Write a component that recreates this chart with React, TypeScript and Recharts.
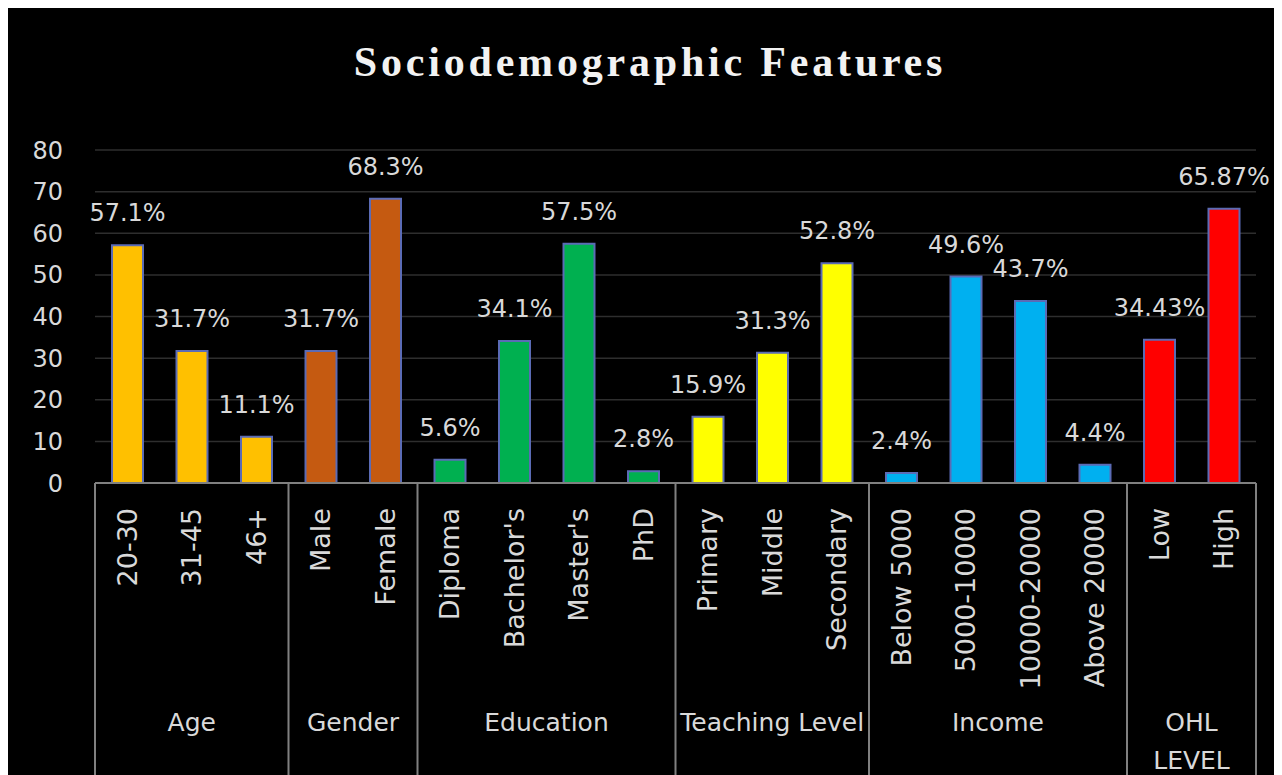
import { BarChart, Bar, XAxis, YAxis, CartesianGrid, Cell, LabelList } from 'recharts'

const categories = [
  '20-30', '31-45', '46+',
  'Male', 'Female',
  'Diploma', "Bachelor's", "Master's", 'PhD',
  'Primary', 'Middle', 'Secondary',
  'Below 5000', '5000-10000', '10000-20000', 'Above 20000',
  'Low', 'High'
]
const values = [57.1, 31.7, 11.1, 31.7, 68.3, 5.6, 34.1, 57.5, 2.8, 15.9, 31.3, 52.8, 2.4, 49.6, 43.7, 4.4, 34.43, 65.87]
const valueLabels = [
  '57.1%', '31.7%', '11.1%', '31.7%', '68.3%', '5.6%', '34.1%', '57.5%', '2.8%',
  '15.9%', '31.3%', '52.8%', '2.4%', '49.6%', '43.7%', '4.4%', '34.43%', '65.87%'
]
const groupNames = ['Age', 'Gender', 'Education', 'Teaching Level', 'Income', 'OHL\nLEVEL']
const groupSizes = [3, 2, 4, 3, 4, 2]
const groupColors = ['#FFC000', '#C55A11', '#00B050', '#FFFF00', '#00B0F0', '#FF0000']
const yTicks = [0, 10, 20, 30, 40, 50, 60, 70, 80]

const W = 1274
const H = 767
const MARGIN = { top: 142, right: 26, left: 0, bottom: 0 }
const Y_AXIS_W = 87
const BAND = (W - MARGIN.left - MARGIN.right - Y_AXIS_W) / categories.length
const TEXT = '#d9d9d9'
const FONT = 'DejaVu Sans'

const chartData = (() => {
  const rows: any[] = []
  let i = 0
  groupSizes.forEach((size, g) => {
    for (let k = 0; k < size; k++) {
      rows.push({
        category: categories[i],
        value: values[i],
        label: valueLabels[i],
        group: g,
        first: k === 0,
        size
      })
      i++
    }
  })
  return rows
})()

function CategoryTick(props: any) {
  const { x, y, payload } = props
  const row = chartData.find((r) => r.category === payload.value)
  if (!row) return null
  const half = BAND / 2
  const isLast = row === chartData[chartData.length - 1]
  const lines = groupNames[row.group].split('\n')
  const gx = x - half + row.size * half
  return (
    <g>
      <text
        x={x}
        y={y + 25}
        transform={`rotate(-90, ${x}, ${y + 25})`}
        textAnchor="end"
        dy="0.35em"
        fill={TEXT}
        fontSize={27}
        fontFamily={FONT}
      >
        {row.category}
      </text>
      {row.first && (
        <line x1={x - half} x2={x - half} y1={y} y2={y + 300} stroke="#808080" strokeWidth={2} />
      )}
      {isLast && (
        <line x1={x + half} x2={x + half} y1={y} y2={y + 300} stroke="#808080" strokeWidth={2} />
      )}
      {row.first && (
        <text x={gx} y={y + 248} textAnchor="middle" fill={TEXT} fontSize={25} fontFamily={FONT}>
          {lines.map((l: string, j: number) => (
            <tspan key={j} x={gx} dy={j === 0 ? 0 : 38}>
              {l}
            </tspan>
          ))}
        </text>
      )}
    </g>
  )
}

export default function App() {
  return (
    <div style={{ position: 'relative', width: W, height: H, background: '#000', fontFamily: FONT }}>
      <div
        style={{
          position: 'absolute',
          top: 33,
          left: 0,
          width: W,
          paddingLeft: 10,
          boxSizing: 'border-box',
          textAlign: 'center',
          fontFamily: 'Liberation Serif',
          fontWeight: 'bold',
          fontSize: 42,
          lineHeight: '42px',
          letterSpacing: 3.8,
          color: '#f2f2f2'
        }}
      >
        Sociodemographic Features
      </div>
      <BarChart width={W} height={H} data={chartData} margin={MARGIN}>
        <CartesianGrid vertical={false} stroke="#2e2e2e" strokeWidth={1.5} />
        <YAxis
          width={Y_AXIS_W}
          domain={[0, 80]}
          ticks={yTicks}
          axisLine={false}
          tickLine={false}
          tickSize={0}
          tickMargin={32}
          tick={{ fill: TEXT, fontSize: 24, fontFamily: FONT }}
        />
        <XAxis
          dataKey="category"
          height={292}
          interval={0}
          tickLine={false}
          tickSize={0}
          tickMargin={0}
          axisLine={{ stroke: '#808080', strokeWidth: 2 }}
          tick={<CategoryTick />}
        />
        <Bar dataKey="value" barSize={31} stroke="#5b6bb5" strokeWidth={2} isAnimationActive={false}>
          {chartData.map((r, i) => (
            <Cell key={i} fill={groupColors[r.group]} />
          ))}
          <LabelList dataKey="label" position="top" offset={24} fill={TEXT} fontSize={24} fontFamily={FONT} />
        </Bar>
      </BarChart>
    </div>
  )
}
